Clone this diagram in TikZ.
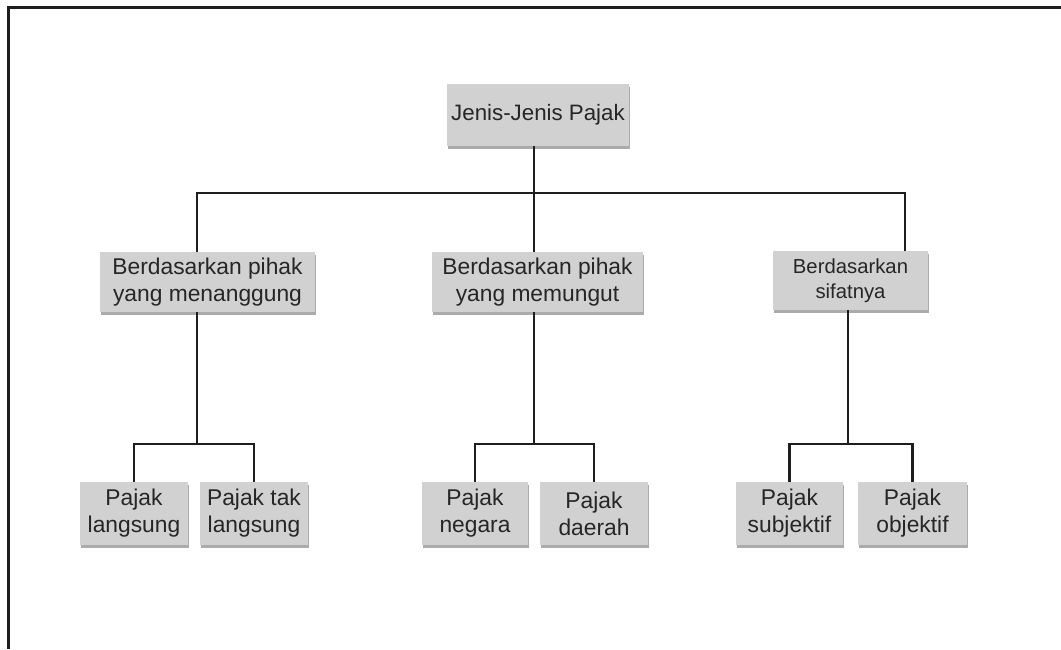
\documentclass[tikz,border=0pt]{standalone}
\usepackage{fontspec}
\setmainfont{Liberation Sans}
\usetikzlibrary{shadows}
\definecolor{boxgray}{HTML}{D1D1D2}
\definecolor{shadowgray}{HTML}{ABABAB}
\definecolor{txt}{HTML}{262626}
\definecolor{linec}{HTML}{1E1E1E}
\tikzset{
  box/.style={fill=boxgray, inner sep=0pt, align=center, text=txt,
    font=\fontsize{22.8}{27}\selectfont,
    drop shadow={shadow xshift=1pt, shadow yshift=-2.5pt, fill=shadowgray, opacity=1}},
  conn/.style={draw=linec, line width=2.7pt, line join=miter},
  frame/.style={draw=linec, line width=3pt, line join=miter}
}
\begin{document}
\begin{tikzpicture}[x=1pt,y=-1pt]
\useasboundingbox (0,0) rectangle (1061,649);
\draw[frame] (1061,7.5) -- (8.5,7.5) -- (8.5,649);

\node[box, minimum width=182pt, minimum height=62pt, font=\fontsize{22.3}{27}\selectfont] (top) at (538,115) {Jenis-Jenis Pajak};

\node[box, minimum width=215pt, minimum height=60pt] (m1) at (207.5,282) {Berdasarkan pihak\\yang menanggung};
\node[box, minimum width=211pt, minimum height=60pt] (m2) at (537.5,282) {Berdasarkan pihak\\yang memungut};
\node[box, minimum width=155pt, minimum height=59pt, font=\fontsize{20.3}{25}\selectfont] (m3) at (850.5,280.5) {Berdasarkan\\sifatnya};

\node[box, minimum width=108pt, minimum height=63pt] (b1) at (134,513.5) {Pajak\\langsung};
\node[box, minimum width=108pt, minimum height=63pt] (b2) at (254,513.5) {Pajak tak\\langsung};
\node[box, minimum width=106pt, minimum height=63pt] (b3) at (475,513.5) {Pajak\\negara};
\node[box, minimum width=108pt, minimum height=63pt] (b4) at (594,513.5) {Pajak\\daerah};
\node[box, minimum width=107pt, minimum height=63pt] (b5) at (789.5,513.5) {Pajak\\subjektif};
\node[box, minimum width=109pt, minimum height=63pt] (b6) at (912.5,513.5) {Pajak\\objektif};

% junctions
\coordinate (j0) at (534,193);
\coordinate (j1) at (197,444);
\coordinate (j2) at (534,444);
\coordinate (j3) at (848,444);
\coordinate (x1) at (197,0);
\coordinate (x3) at (905,0);

% top level
\draw[conn] (top.south -| j0) -- (j0);
\draw[conn] (m1.north -| x1) |- (j0) -| (m3.north -| x3);
\draw[conn] (j0) -- (m2.north -| j0);

% second level
\draw[conn] (m1.south -| j1) -- (j1);
\draw[conn] (b1.north) |- (j1) -| (b2.north);
\draw[conn] (m2.south -| j2) -- (j2);
\draw[conn] (b3.north) |- (j2) -| (b4.north);
\draw[conn] (m3.south -| j3) -- (j3);
\draw[conn] (b5.north) |- (j3) -| (b6.north);
\end{tikzpicture}
\end{document}
